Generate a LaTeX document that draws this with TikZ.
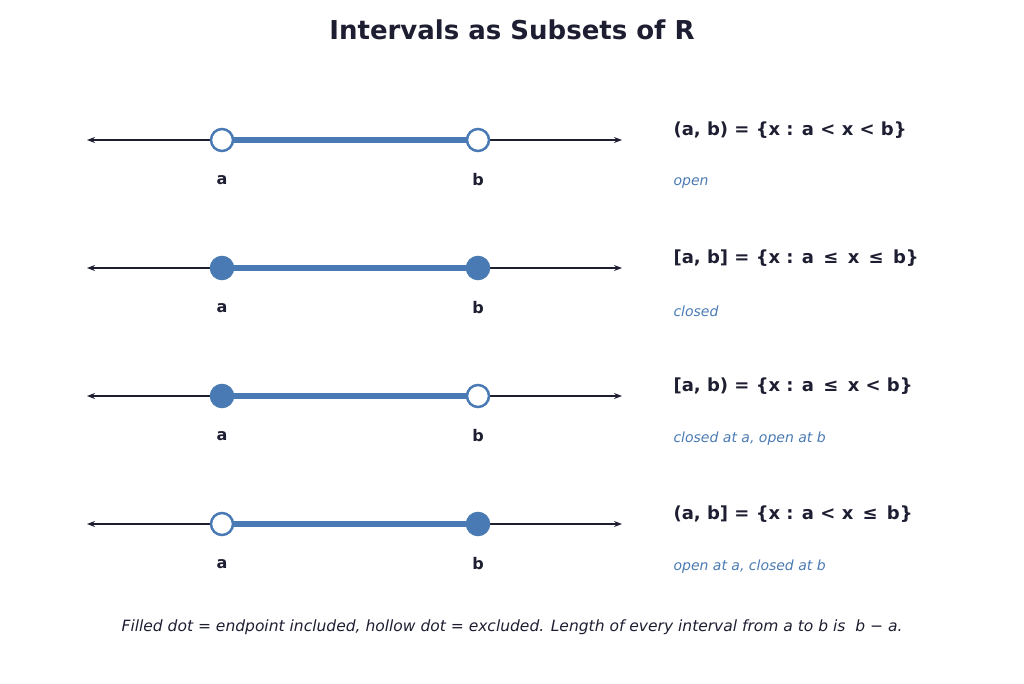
\documentclass[tikz,border=0pt]{standalone}
\usepackage{fontspec}
\setmainfont{DejaVu Sans}
\usetikzlibrary{arrows.meta}
\definecolor{ink}{HTML}{1E1E32}
\definecolor{blu}{HTML}{4A7AB3}
\begin{document}
\begin{tikzpicture}[x=1pt,y=-1pt,
  axis/.style={ink,line width=2pt,{Stealth[length=8pt,width=6pt]}-{Stealth[length=8pt,width=6pt]}},
  seg/.style={blu,line width=6pt},
  filled/.style={circle,fill=blu,draw=blu,line width=2.5pt,minimum size=22pt,inner sep=0pt},
  hollow/.style={circle,fill=white,draw=blu,line width=2.5pt,minimum size=22pt,inner sep=0pt},
  lab/.style={ink,font=\fontsize{16}{19}\selectfont\bfseries},
  eq/.style={ink,anchor=west,font=\fontsize{18}{21}\selectfont\bfseries},
  desc/.style={blu,anchor=west,font=\fontsize{14}{16}\selectfont\itshape}]
\useasboundingbox (0,0) rectangle (1024,683);
\node[ink,font=\fontsize{26}{30}\selectfont\bfseries] (title) at (512,30) {Intervals as Subsets of R};
\foreach \i/\y/\sa/\sb/\eqt/\dt in {
 1/140/hollow/hollow/{(a, b) = \{x : a < x < b\}}/open,
 2/268/filled/filled/{[a, b] = \{x : a \,≤\, x \,≤\, b\}}/closed,
 3/396/filled/hollow/{[a, b) = \{x : a \,≤\, x < b\}}/{closed at a, open at b},
 4/524/hollow/filled/{(a, b] = \{x : a < x \,≤\, b\}}/{open at a, closed at b}}{
  \coordinate (l\i) at (87,\y);
  \coordinate (r\i) at (622,\y);
  \draw[axis] (l\i) -- (r\i);
  \coordinate (pa\i) at (222,\y);
  \coordinate (pb\i) at (478,\y);
  \draw[seg] (pa\i) -- (pb\i);
  \node[\sa] (a\i) at (pa\i) {};
  \node[\sb] (b\i) at (pb\i) {};
  \node[lab] (la\i) at (222,\y+40) {a};
  \node[lab] (lb\i) at (478,\y+40) {b};
  \node[eq] (e\i) at (670,\y-10) {\eqt};
  \node[desc] (d\i) at (670,\y+43) {\dt};
}
\node[ink,font=\fontsize{15.5}{18}\selectfont\itshape] (foot) at (512,627) {Filled dot = endpoint included, hollow dot = excluded. Length of every interval from a to b is \ b − a.};
\end{tikzpicture}
\end{document}
